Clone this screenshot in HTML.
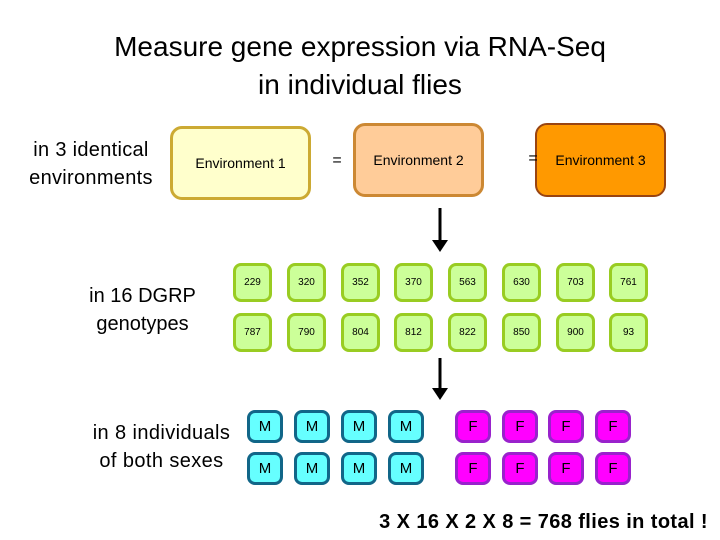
<!DOCTYPE html>
<html><head><style>
body{margin:0;width:720px;height:540px;background:#fff;position:relative;font-family:"Liberation Sans",sans-serif;overflow:hidden}
.a{position:absolute}
.t{position:absolute;text-align:center;color:#000}
.env{position:absolute;border-radius:12px;border:3px solid;box-sizing:border-box;display:flex;align-items:center;justify-content:center;font-size:14px}
.g{position:absolute;width:39px;height:39px;box-sizing:border-box;border:3px solid #99cc22;background:#ccff99;border-radius:8px;display:flex;align-items:center;justify-content:center;font-size:10px}
.m,.f{position:absolute;width:36px;height:33px;box-sizing:border-box;border:3px solid;border-radius:8px;display:flex;align-items:center;justify-content:center;font-size:15px}
.m{background:#66ffff;border-color:#116688}
.f{background:#ff00ff;border-color:#9922cc}
</style></head><body>
<div class="t" style="left:0;width:720px;top:28px;font-size:28px;line-height:38px">Measure gene expression via RNA-Seq<br>in individual flies</div>
<div class="t" style="left:16px;width:150px;top:136px;font-size:20px;line-height:28px;letter-spacing:0.3px">in 3 identical<br>environments</div>
<div class="t" style="left:70px;width:145px;top:282px;font-size:20px;line-height:28px">in 16 DGRP<br>genotypes</div>
<div class="t" style="left:84px;width:155px;top:419px;font-size:20px;line-height:28px;letter-spacing:0.4px">in 8 individuals<br>of both sexes</div>
<div class="env" style="left:170px;top:126px;width:141px;height:74px;background:#ffffcc;border-color:#ccaa33">Environment 1</div>
<div class="env" style="left:353px;top:123px;width:131px;height:74px;background:#ffcc99;border-color:#cc8833">Environment 2</div>
<div class="env" style="left:535px;top:123px;width:131px;height:74px;background:#ff9900;border-color:#994411;border-width:2px">Environment 3</div>
<div class="t" style="left:327px;width:20px;top:152px;font-size:16px">=</div>
<div class="t" style="left:523px;width:20px;top:150px;font-size:16px">=</div>
<svg class="a" style="left:0;top:0" width="720" height="540">
<line x1="440" y1="208" x2="440" y2="245" stroke="#000" stroke-width="3"/><polygon points="432,240 448,240 440,252" fill="#000"/>
<line x1="440" y1="358" x2="440" y2="393" stroke="#000" stroke-width="3"/><polygon points="432,388 448,388 440,400" fill="#000"/>
</svg>
<div class="g" style="left:233px;top:263px">229</div><div class="g" style="left:287px;top:263px">320</div><div class="g" style="left:341px;top:263px">352</div><div class="g" style="left:394px;top:263px">370</div><div class="g" style="left:448px;top:263px">563</div><div class="g" style="left:502px;top:263px">630</div><div class="g" style="left:556px;top:263px">703</div><div class="g" style="left:609px;top:263px">761</div>
<div class="g" style="left:233px;top:313px">787</div><div class="g" style="left:287px;top:313px">790</div><div class="g" style="left:341px;top:313px">804</div><div class="g" style="left:394px;top:313px">812</div><div class="g" style="left:448px;top:313px">822</div><div class="g" style="left:502px;top:313px">850</div><div class="g" style="left:556px;top:313px">900</div><div class="g" style="left:609px;top:313px">93</div>
<div class="m" style="left:247px;top:410px">M</div><div class="m" style="left:294px;top:410px">M</div><div class="m" style="left:341px;top:410px">M</div><div class="m" style="left:388px;top:410px">M</div>
<div class="f" style="left:455px;top:410px">F</div><div class="f" style="left:502px;top:410px">F</div><div class="f" style="left:548px;top:410px">F</div><div class="f" style="left:595px;top:410px">F</div>
<div class="m" style="left:247px;top:452px">M</div><div class="m" style="left:294px;top:452px">M</div><div class="m" style="left:341px;top:452px">M</div><div class="m" style="left:388px;top:452px">M</div>
<div class="f" style="left:455px;top:452px">F</div><div class="f" style="left:502px;top:452px">F</div><div class="f" style="left:548px;top:452px">F</div><div class="f" style="left:595px;top:452px">F</div>
<div class="t" style="left:300px;width:408px;top:511px;font-size:20px;font-weight:bold;text-align:right;letter-spacing:0.4px">3 X 16 X 2 X 8 = 768 flies in total !</div>
</body></html>
